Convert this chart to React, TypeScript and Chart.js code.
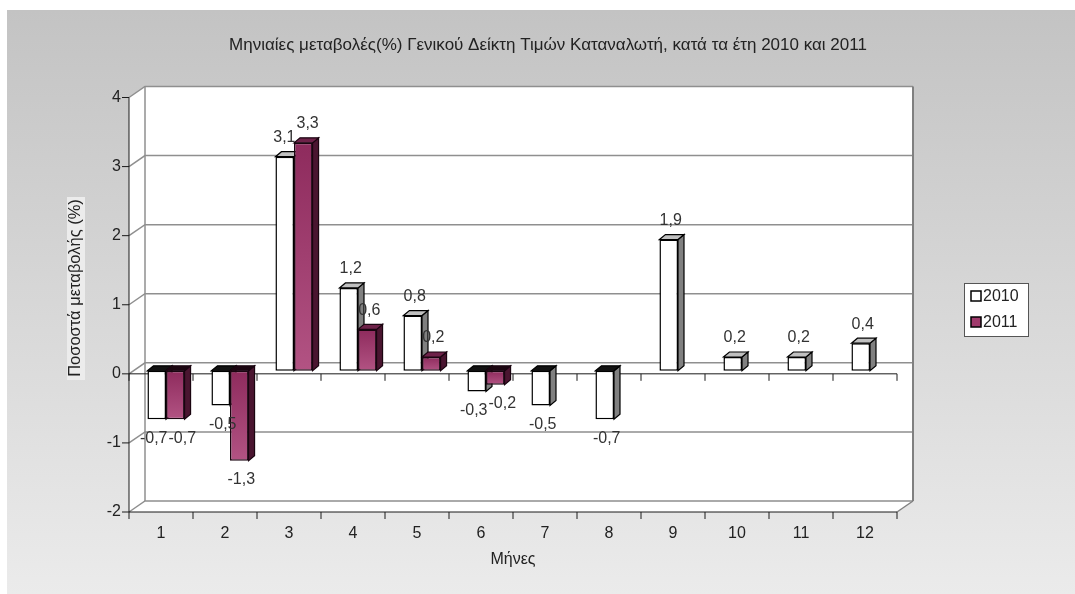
import React, { useEffect, useRef } from "react";
import { Chart, registerables } from "chart.js";

Chart.register(...registerables);

// ---------- data ----------
const months = ["1", "2", "3", "4", "5", "6", "7", "8", "9", "10", "11", "12"];
const series2010: (number | null)[] = [-0.7, -0.5, 3.1, 1.2, 0.8, -0.3, -0.5, -0.7, 1.9, 0.2, 0.2, 0.4];
const series2011: (number | null)[] = [-0.7, -1.3, 3.3, 0.6, 0.2, -0.2, null, null, null, null, null, null];
const seriesNames = ["2010", "2011"];
const yMin = -2;
const yMax = 4;
const titleText = "Μηνιαίες μεταβολές(%) Γενικού Δείκτη Τιμών Καταναλωτή, κατά τα έτη 2010 και 2011";
const yTitleText = "Ποσοστά μεταβολής (%)";
const xTitleText = "Μήνες";

const FONT = '"Liberation Sans", Arial, sans-serif';

export default function App() {
  const ref = useRef<HTMLCanvasElement | null>(null);

  useEffect(() => {
    const canvas = ref.current;
    if (!canvas) return;

    const W = 1075;
    const H = 594;
    const WALL_DX = 16;
    const WALL_DY = -11;
    const BAR_DX = 5;
    const BAR_DY = -3;
    const DEPTH_DX = 6;
    const DEPTH_DY = -5;
    const PLUM = "#a03a6c";

    const faceColors = [
      { sidePos: "#808080", topPos: "#c0c0c0", sideNeg: "#808080", topNeg: "#111111", stroke: "#000000" },
      { sidePos: "#4a1530", topPos: "#6e2249", sideNeg: "#4a1530", topNeg: "#1a0510", stroke: "#1a0510" },
    ];

    const poly = (ctx: CanvasRenderingContext2D, pts: number[][], fill: string | null, stroke: string | null, lw = 1) => {
      ctx.beginPath();
      ctx.moveTo(pts[0][0], pts[0][1]);
      for (let i = 1; i < pts.length; i++) ctx.lineTo(pts[i][0], pts[i][1]);
      ctx.closePath();
      if (fill) {
        ctx.fillStyle = fill;
        ctx.fill();
      }
      if (stroke) {
        ctx.strokeStyle = stroke;
        ctx.lineWidth = lw;
        ctx.stroke();
      }
    };

    const line = (ctx: CanvasRenderingContext2D, pts: number[][], color: string, lw: number) => {
      ctx.beginPath();
      ctx.moveTo(pts[0][0], pts[0][1]);
      for (let i = 1; i < pts.length; i++) ctx.lineTo(pts[i][0], pts[i][1]);
      ctx.strokeStyle = color;
      ctx.lineWidth = lw;
      ctx.stroke();
    };

    const plumFill = (c: any) => {
      const chart = c.chart;
      const ys = chart.scales && chart.scales.y;
      const v = c.raw;
      if (!ys || v === null || v === undefined || typeof v !== "number") return PLUM;
      const y1 = ys.getPixelForValue(v);
      const y0 = ys.getPixelForValue(0);
      const top = Math.min(y0, y1);
      const bot = Math.max(y0, y1);
      if (!isFinite(top) || !isFinite(bot) || bot - top < 1) return PLUM;
      const g = chart.ctx.createLinearGradient(0, top, 0, bot);
      g.addColorStop(0, "#8e2b5d");
      g.addColorStop(1, "#b25383");
      return g;
    };

    const scene = {
      id: "scene3d",
      beforeDraw(chart: any) {
        const ctx: CanvasRenderingContext2D = chart.ctx;
        const { left: L, right: R, top: T, bottom: B } = chart.chartArea;
        const ys = chart.scales.y;
        const xs = chart.scales.x;
        ctx.save();
        // page background
        ctx.fillStyle = "#ffffff";
        ctx.fillRect(0, 0, W, H);
        const g = ctx.createLinearGradient(0, 10, 0, H);
        g.addColorStop(0, "#c3c3c3");
        g.addColorStop(1, "#ebebeb");
        ctx.fillStyle = g;
        ctx.fillRect(7, 10, W - 7, H - 10);

        // walls
        poly(ctx, [[L + WALL_DX, T + WALL_DY], [R + WALL_DX, T + WALL_DY], [R + WALL_DX, B + WALL_DY], [L + WALL_DX, B + WALL_DY]], "#ffffff", null);
        poly(ctx, [[L, T], [L + WALL_DX, T + WALL_DY], [L + WALL_DX, B + WALL_DY], [L, B]], "#ffffff", null);
        poly(ctx, [[L, B], [L + WALL_DX, B + WALL_DY], [R + WALL_DX, B + WALL_DY], [R, B]], "#ffffff", null);

        // gridlines on back wall and left wall
        for (let v = yMin; v <= yMax; v++) {
          const y = ys.getPixelForValue(v);
          line(ctx, [[L, y], [L + WALL_DX, y + WALL_DY], [R + WALL_DX, y + WALL_DY]], "#8f8f8f", 1.5);
        }
        // wall edges
        line(ctx, [[L + WALL_DX, T + WALL_DY], [L + WALL_DX, B + WALL_DY]], "#8f8f8f", 1.5);
        line(ctx, [[R + WALL_DX, T + WALL_DY], [R + WALL_DX, B + WALL_DY]], "#808080", 2);
        line(ctx, [[R, B], [R + WALL_DX, B + WALL_DY]], "#808080", 1.5);

        // front axes
        const y0 = ys.getPixelForValue(0);
        line(ctx, [[L, T], [L, B]], "#1a1a1a", 1);
        line(ctx, [[L, B], [R, B]], "#1a1a1a", 1);
        line(ctx, [[L, y0], [R, y0]], "#1a1a1a", 1);
        for (let v = yMin; v <= yMax; v++) {
          const y = ys.getPixelForValue(v);
          line(ctx, [[L - 7, y], [L, y]], "#1a1a1a", 1);
        }
        for (let i = 0; i <= months.length; i++) {
          const x = xs.getPixelForValue(i - 0.5);
          line(ctx, [[x, B], [x, B + 7]], "#1a1a1a", 1);
          line(ctx, [[x, y0], [x, y0 + 7]], "#1a1a1a", 1);
        }
        ctx.restore();
      },
      beforeDatasetsDraw(chart: any) {
        const ctx: CanvasRenderingContext2D = chart.ctx;
        ctx.save();
        ctx.translate(BAR_DX, BAR_DY);
        chart.data.datasets.forEach((ds: any, di: number) => {
          const meta = chart.getDatasetMeta(di);
          const fc = faceColors[di];
          meta.data.forEach((el: any, j: number) => {
            const v = ds.data[j];
            if (v === null || v === undefined) return;
            const l = el.x - el.width / 2;
            const r = el.x + el.width / 2;
            const t = Math.min(el.y, el.base);
            const b = Math.max(el.y, el.base);
            const pos = v >= 0;
            poly(ctx, [[r, t], [r + DEPTH_DX, t + DEPTH_DY], [r + DEPTH_DX, b + DEPTH_DY], [r, b]], pos ? fc.sidePos : fc.sideNeg, fc.stroke, 1.2);
            poly(ctx, [[l, t], [l + DEPTH_DX, t + DEPTH_DY], [r + DEPTH_DX, t + DEPTH_DY], [r, t]], pos ? fc.topPos : fc.topNeg, fc.stroke, 1.2);
          });
        });
      },
      afterDatasetsDraw(chart: any) {
        const ctx: CanvasRenderingContext2D = chart.ctx;
        ctx.restore();
        ctx.save();
        ctx.font = `16px ${FONT}`;
        ctx.fillStyle = "#333333";
        ctx.textAlign = "center";
        ctx.textBaseline = "middle";
        const labels: { x: number; y: number; w: number; text: string }[][] = months.map(() => []);
        chart.data.datasets.forEach((ds: any, di: number) => {
          const meta = chart.getDatasetMeta(di);
          meta.data.forEach((el: any, j: number) => {
            const v = ds.data[j];
            if (v === null || v === undefined) return;
            const text = String(v).replace(".", ",");
            const x = el.x + BAR_DX + 2;
            const y = v >= 0 ? el.y + BAR_DY - 19 : el.y + BAR_DY + 19;
            labels[j].push({ x, y, w: ctx.measureText(text).width, text });
          });
        });
        labels.forEach((group) => {
          if (group.length === 2) {
            const [a, b] = group;
            const overlapX = (a.w + b.w) / 2 + 1 - (b.x - a.x);
            if (overlapX > 0 && Math.abs(a.y - b.y) < 15) {
              a.x -= overlapX / 2;
              b.x += overlapX / 2;
            }
          }
          group.forEach((lb) => ctx.fillText(lb.text, lb.x, lb.y));
        });
        ctx.restore();
      },
      afterDraw(chart: any) {
        const ctx: CanvasRenderingContext2D = chart.ctx;
        ctx.save();
        // title
        ctx.fillStyle = "#222222";
        ctx.textAlign = "center";
        ctx.textBaseline = "middle";
        ctx.font = `17px ${FONT}`;
        ctx.fillText(titleText, 548, 45);

        // x axis title
        ctx.font = `16px ${FONT}`;
        ctx.fillText(xTitleText, 513, 560);

        // y axis title with light box
        ctx.fillStyle = "#ececec";
        ctx.fillRect(67, 197, 18, 183);
        ctx.save();
        ctx.translate(75, 288);
        ctx.rotate(-Math.PI / 2);
        ctx.fillStyle = "#222222";
        ctx.font = `16.5px ${FONT}`;
        ctx.fillText(yTitleText, 0, 0);
        ctx.restore();

        // legend
        ctx.fillStyle = "#ffffff";
        ctx.fillRect(964, 283, 64, 53);
        ctx.strokeStyle = "#555555";
        ctx.lineWidth = 1;
        ctx.strokeRect(964.5, 283.5, 64, 53);
        const fills = ["#ffffff", PLUM];
        seriesNames.forEach((name, i) => {
          const cy = 296 + i * 26;
          ctx.fillStyle = fills[i];
          ctx.fillRect(971, cy - 5, 10, 10);
          ctx.strokeStyle = "#000000";
          ctx.lineWidth = 1.5;
          ctx.strokeRect(971, cy - 5, 10, 10);
          ctx.fillStyle = "#222222";
          ctx.textAlign = "left";
          ctx.font = `16px ${FONT}`;
          ctx.fillText(name, 983, cy + 1);
        });
        ctx.restore();
      },
    };

    const chart = new Chart(canvas, {
      type: "bar",
      data: {
        labels: months,
        datasets: [
          {
            label: seriesNames[0],
            data: series2010,
            backgroundColor: "#ffffff",
            borderColor: "#000000",
            borderWidth: 1.5,
            borderSkipped: false,
            categoryPercentage: 0.58,
            barPercentage: 1,
          },
          {
            label: seriesNames[1],
            data: series2011,
            backgroundColor: plumFill,
            borderColor: "#1a0510",
            borderWidth: 1.5,
            borderSkipped: false,
            categoryPercentage: 0.58,
            barPercentage: 1,
          },
        ],
      },
      options: {
        responsive: false,
        maintainAspectRatio: false,
        animation: false,
        devicePixelRatio: 1,
        layout: { padding: { left: 89, top: 97.5, right: 178, bottom: 42 } },
        plugins: {
          legend: { display: false },
          title: { display: false },
          tooltip: { enabled: false },
        },
        datasets: { bar: { clip: false } as any },
        scales: {
          x: {
            grid: { display: false, drawTicks: false },
            border: { display: false },
            ticks: { font: { family: FONT, size: 16 }, color: "#222222", padding: 12, maxRotation: 0 },
            afterFit: (s: any) => {
              s.height = 40;
            },
          },
          y: {
            min: yMin,
            max: yMax,
            grid: { display: false, drawTicks: false },
            border: { display: false },
            ticks: { stepSize: 1, font: { family: FONT, size: 16 }, color: "#222222", padding: 8 },
            afterFit: (s: any) => {
              s.width = 40;
            },
          },
        },
      },
      plugins: [scene],
    } as any);

    return () => chart.destroy();
  }, []);

  return (
    <div style={{ position: "absolute", left: 0, top: 0, width: 1075, height: 594 }}>
      <canvas ref={ref} width={1075} height={594} style={{ display: "block", width: 1075, height: 594 }} />
    </div>
  );
}
